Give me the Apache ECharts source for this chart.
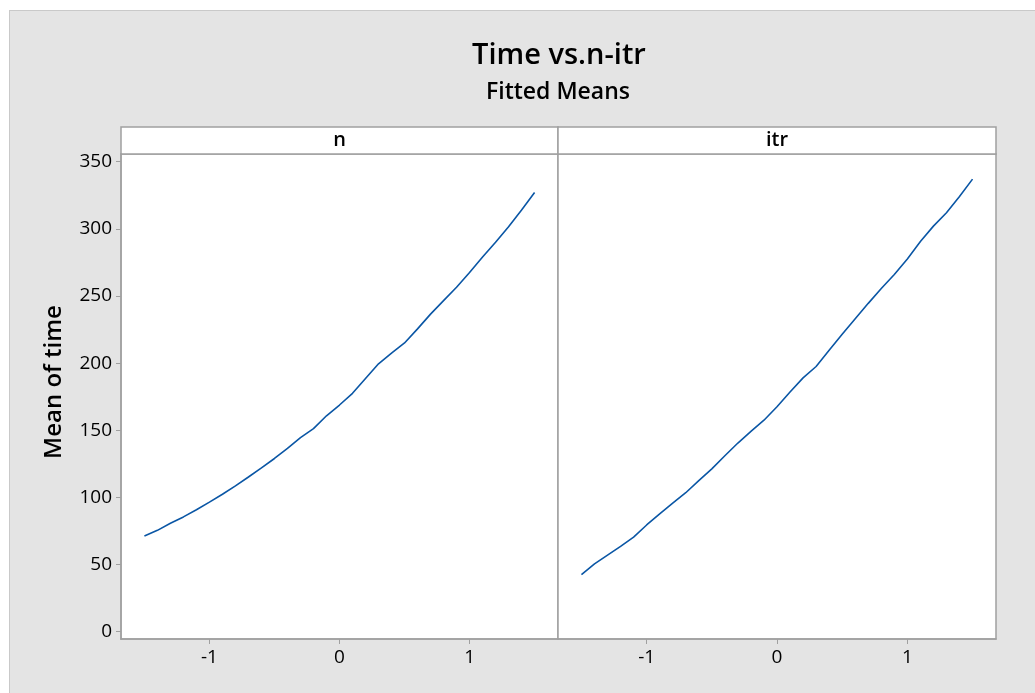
<!DOCTYPE html>
<html>
<head>
<meta charset="utf-8">
<script src="https://cdn.jsdelivr.net/npm/echarts@6/dist/echarts.min.js"></script>
<style>
  html, body { margin: 0; padding: 0; background: #fff; }
  #bg { position: absolute; left: 9px; top: 10px; width: 1026px; height: 683px;
        background: #e4e4e4; border-left: 1px solid #c9c9c9; border-top: 1px solid #c9c9c9; }
  #main { position: absolute; left: 0; top: 0; width: 1035px; height: 693px; }
</style>
</head>
<body>
<div id="bg"></div>
<div id="main"></div>
<script>
// 数据
const xLevels = [-1.5, -1.4, -1.3, -1.2, -1.1, -1.0, -0.9, -0.8, -0.7, -0.6, -0.5,
  -0.4, -0.3, -0.2, -0.1, 0.0, 0.1, 0.2, 0.3, 0.4, 0.5,
  0.6, 0.7, 0.8, 0.9, 1.0, 1.1, 1.2, 1.3, 1.4, 1.5]
const nMeans = [71.3, 75.5, 80.8, 85.5, 90.8, 96.5, 102.4, 108.6, 115.2, 122.0, 129.0,
  136.5, 144.5, 151.2, 160.8, 168.8, 177.5, 188.5, 199.5, 207.5, 215,
  225.5, 236.5, 246.5, 256.5, 267.5, 279, 290, 301.5, 314, 327]
const itrMeans = [42.5, 50.5, 57, 63.5, 70.5, 79.5, 87.8, 95.7, 103.5, 112.5, 121.3,
  131, 140.5, 149.2, 157.5, 167.5, 178.5, 189, 197.5, 209.5, 221.5,
  233, 244.5, 255.5, 266, 277.5, 290.5, 302, 312, 324, 337]
const xTicks = [-1, 0, 1]
const yTicks = [0, 50, 100, 150, 200, 250, 300, 350]
const panels = ['n', 'itr']

const font = '"Open Sans", "Noto Sans", sans-serif'
const edge = '#a0a0a0'
const lineColor = '#0a56a5'

let myChart = echarts.init(document.getElementById('main'))

function pairs(vals) {
  return xLevels.map((x, i) => [x, vals[i]])
}

function xAxis(idx) {
  return {
    type: 'value', gridIndex: idx, min: -1.68, max: 1.68,
    splitLine: { show: false },
    axisLine: { show: true, onZero: false, lineStyle: { color: edge, width: 1.5 } },
    axisTick: { show: true, length: 5, customValues: xTicks, lineStyle: { color: edge } },
    axisLabel: { customValues: xTicks, color: '#000', fontSize: 19, fontFamily: font, margin: 9 }
  }
}

function yAxis(idx) {
  let first = idx === 0
  return {
    type: 'value', gridIndex: idx, min: -5.4, max: 355.7,
    splitLine: { show: false },
    axisLine: { show: first, onZero: false, lineStyle: { color: edge, width: 1.5 } },
    axisTick: { show: first, length: 5, customValues: yTicks, lineStyle: { color: edge } },
    axisLabel: { show: first, customValues: yTicks, color: '#000', fontSize: 19, fontFamily: font, margin: 9 }
  }
}

let opt = {
  backgroundColor: 'transparent',
  animation: false,
  grid: [
    { left: 121, top: 154, width: 437, height: 485, show: true, backgroundColor: '#fff', borderColor: edge, borderWidth: 1.5 },
    { left: 558, top: 154, width: 438, height: 485, show: true, backgroundColor: '#fff', borderColor: edge, borderWidth: 1.5 }
  ],
  xAxis: [xAxis(0), xAxis(1)],
  yAxis: [yAxis(0), yAxis(1)],
  // 标题和面板标签
  graphic: [
    { type: 'text', x: 559, y: 56, style: { text: 'Time vs.n-itr', fill: '#000', font: '600 29px ' + font, align: 'center', verticalAlign: 'middle' } },
    { type: 'text', x: 558, y: 92, style: { text: 'Fitted Means', fill: '#000', font: '600 23px ' + font, align: 'center', verticalAlign: 'middle' } },
    { type: 'text', x: 54, y: 382, rotation: Math.PI / 2, style: { text: 'Mean of time', fill: '#000', font: '600 24px ' + font, align: 'center', verticalAlign: 'middle' } },
    { type: 'rect', shape: { x: 121, y: 127, width: 437, height: 27 }, style: { fill: '#fff', stroke: edge, lineWidth: 1.5 } },
    { type: 'rect', shape: { x: 558, y: 127, width: 438, height: 27 }, style: { fill: '#fff', stroke: edge, lineWidth: 1.5 } },
    { type: 'text', x: 339.5, y: 140, style: { text: panels[0], fill: '#000', font: '600 20px ' + font, align: 'center', verticalAlign: 'middle' } },
    { type: 'text', x: 777, y: 140, style: { text: panels[1], fill: '#000', font: '600 20px ' + font, align: 'center', verticalAlign: 'middle' } }
  ],
  series: [
    { name: panels[0], type: 'line', xAxisIndex: 0, yAxisIndex: 0, data: pairs(nMeans),
      showSymbol: false, lineStyle: { color: lineColor, width: 1.6 } },
    { name: panels[1], type: 'line', xAxisIndex: 1, yAxisIndex: 1, data: pairs(itrMeans),
      showSymbol: false, lineStyle: { color: lineColor, width: 1.6 } }
  ]
}

myChart.setOption(opt)
</script>
</body>
</html>
